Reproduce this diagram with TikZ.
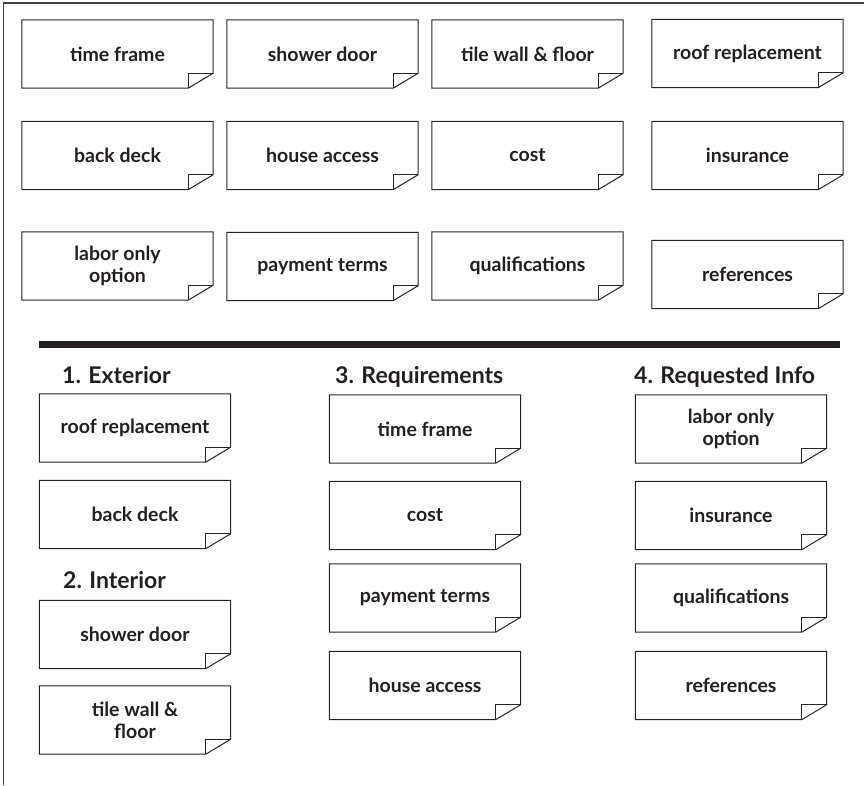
\documentclass[tikz,border=0pt]{standalone}
\usepackage{fontspec}
\setmainfont{Lato}
\definecolor{ink}{HTML}{231F20}
\newcommand\stickynote[4]{%
  \node[notebox] (#1) at (#2,#3) {#4};
  \draw[noteline] (#1.north west) -- (#1.north east) -- ([yshift=15pt]#1.south east)
     -- ([xshift=-25pt]#1.south east) -- (#1.south west) -- cycle;
  \draw[noteline] ([xshift=-25pt]#1.south east) -- ([xshift=-25pt,yshift=15pt]#1.south east)
     -- ([yshift=15pt]#1.south east);
}
\begin{document}
\begin{tikzpicture}[x=1pt,y=-1pt,
  notebox/.style={minimum width=191pt,minimum height=68pt,inner sep=0pt,align=center,
     text=ink,font=\bfseries\fontsize{19.5}{22}\selectfont},
  noteline/.style={draw=black!85,line width=1pt,line join=miter},
  header/.style={anchor=base west,inner sep=0pt,text=ink,font=\bfseries\fontsize{23}{26}\selectfont},
  frameline/.style={draw=black!75,line width=1.4pt}]
\useasboundingbox (0,0) rectangle (864,785);
\fill[white] (0,0) rectangle (864,785);
% frame
\draw[frameline] (3.5,785) -- (3.5,3) -- (864,3);
% top grid
\stickynote{t1}{117.5}{54}{time frame}
\stickynote{t2}{322.5}{54}{shower door}
\stickynote{t3}{527.5}{54}{tile wall \& floor}
\stickynote{t4}{747.5}{53.5}{roof replacement}
\stickynote{t5}{117.5}{155.5}{back deck}
\stickynote{t6}{322.5}{155.5}{house access}
\stickynote{t7}{527.5}{155.5}{cost}
\stickynote{t8}{747.5}{155.5}{insurance}
\stickynote{t9}{117.5}{266}{labor only\\option}
\stickynote{t10}{322.5}{266.5}{payment terms}
\stickynote{t11}{527.5}{266}{qualifications}
\stickynote{t12}{747.5}{274.5}{references}
% separator
\draw[line width=7.5pt,ink] (39,344.5) -- (840,344.5);
% headers
\node[header] (h1) at (62,383) {1. Exterior};
\node[header] (h2) at (63,588) {2. Interior};
\node[header] (h3) at (335,383) {3. Requirements};
\node[header] (h4) at (634,383) {4. Requested Info};
% column 1
\stickynote{b1}{135}{428}{roof replacement}
\stickynote{b2}{135}{514.5}{back deck}
\stickynote{b3}{135}{634.5}{shower door}
\stickynote{b4}{135}{720}{tile wall \&\\floor}
% column 2
\stickynote{b5}{425}{429}{time frame}
\stickynote{b6}{425}{515.5}{cost}
\stickynote{b7}{425}{598}{payment terms}
\stickynote{b8}{425}{685.5}{house access}
% column 3
\stickynote{b9}{731}{429}{labor only\\option}
\stickynote{b10}{731}{515.5}{insurance}
\stickynote{b11}{731}{598}{qualifications}
\stickynote{b12}{731}{685.5}{references}
\end{tikzpicture}
\end{document}
